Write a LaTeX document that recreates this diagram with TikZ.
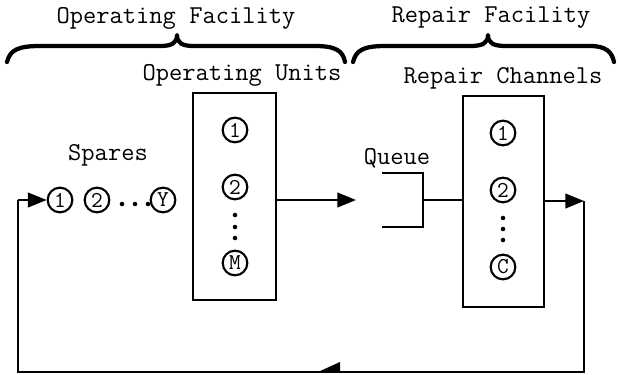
\documentclass[tikz,border=0pt]{standalone}
\usetikzlibrary{arrows.meta}
\begin{document}
\begin{tikzpicture}[x=0.75pt,y=-0.75pt,
  lbl/.style={font=\fontsize{19.3}{20}\selectfont\ttfamily, inner sep=0},
  unit/.style={circle, draw, line width=1.6pt, minimum size=18.5pt, inner sep=0, font=\fontsize{17}{17}\selectfont\ttfamily},
  dotm/.style={circle, fill, inner sep=0, minimum size=3.4pt},
  boxn/.style={draw, line width=1.7pt, inner sep=0},
  conn/.style={line width=1.4pt},
  arr/.style={conn, -{Triangle[length=14pt,width=11pt]}},
  bracep/.style={line width=3.2pt, line cap=round, line join=round}]
\useasboundingbox (0,0) rectangle (618,375);

% titles
\node[lbl] (tof) at (176,18) {Operating Facility};
\node[lbl] (trf) at (491,18) {Repair Facility};
\node[lbl] (tou) at (242,75) {Operating Units};
\node[lbl] (trc) at (503,78) {Repair Channels};
\node[lbl] (tsp) at (108,155) {Spares};
\node[lbl] (tqu) at (397,158) {Queue};

% braces
\draw[bracep] (7,62) .. controls (10,50) and (18,46) .. (40,46) -- (160,46)
  .. controls (172,46) and (177,43) .. (177,35)
  .. controls (177,43) and (182,46) .. (194,46) -- (315,46)
  .. controls (336,46) and (343,51) .. (345,62);
\draw[bracep] (353,62) .. controls (356,51) and (362,46) .. (385,46) -- (470,46)
  .. controls (483,46) and (488,43) .. (488,35)
  .. controls (488,43) and (493,46) .. (506,46) -- (590,46)
  .. controls (606,46) and (612,52) .. (614,62);

% boxes
\node[boxn, minimum width=62.25pt, minimum height=155.25pt] (ob) at (234.5,196.5) {};
\node[boxn, minimum width=60.75pt, minimum height=158.25pt] (rb) at (503.5,201.5) {};

% operating units
\node[unit] (o1) at (235,130) {1};
\node[unit] (o2) at (235,187) {2};
\node[dotm] (od1) at (235,215) {};
\node[dotm] (od2) at (235,227) {};
\node[dotm] (od3) at (235,238) {};
\node[unit] (oM) at (235,263) {M};

% repair channels
\node[unit] (r1) at (503,133) {1};
\node[unit] (r2) at (503,190) {2};
\node[dotm] (rd1) at (503,218) {};
\node[dotm] (rd2) at (503,229) {};
\node[dotm] (rd3) at (503,240) {};
\node[unit] (rC) at (503,267) {C};

% spares
\node[unit] (s1) at (60,200) {1};
\node[unit] (s2) at (97,200) {2};
\node[dotm] (sd1) at (122,204) {};
\node[dotm] (sd2) at (135,204) {};
\node[dotm] (sd3) at (148,204) {};
\node[unit] (sY) at (163,200) {Y};

% queue
\coordinate (qa) at (382,173);
\coordinate (qb) at (423,173);
\coordinate (qc) at (423,227);
\coordinate (qd) at (382,227);
\coordinate (qm) at (423,200);
\draw[conn, line width=1.7pt] (qa) -- (qb) -- (qc) -- (qd);

% connectors
\coordinate (qin) at (356,200);
\coordinate (rc) at (584,201);
\coordinate (brc) at (584,372);
\coordinate (blc) at (18,372);
\coordinate (tlc) at (18,200);
\draw[arr] (ob.east |- qin) -- (qin);
\draw[conn] (qm) -- (rb.west |- qm);
\draw[arr] (rb.east |- rc) -- (rc);
\draw[conn] (rc) -- (brc) -- (blc) -- (tlc);
\draw[arr] (tlc) -- (s1.west);
\fill (318,372) -- (340,362) -- (340,372) -- cycle;
\end{tikzpicture}
\end{document}
